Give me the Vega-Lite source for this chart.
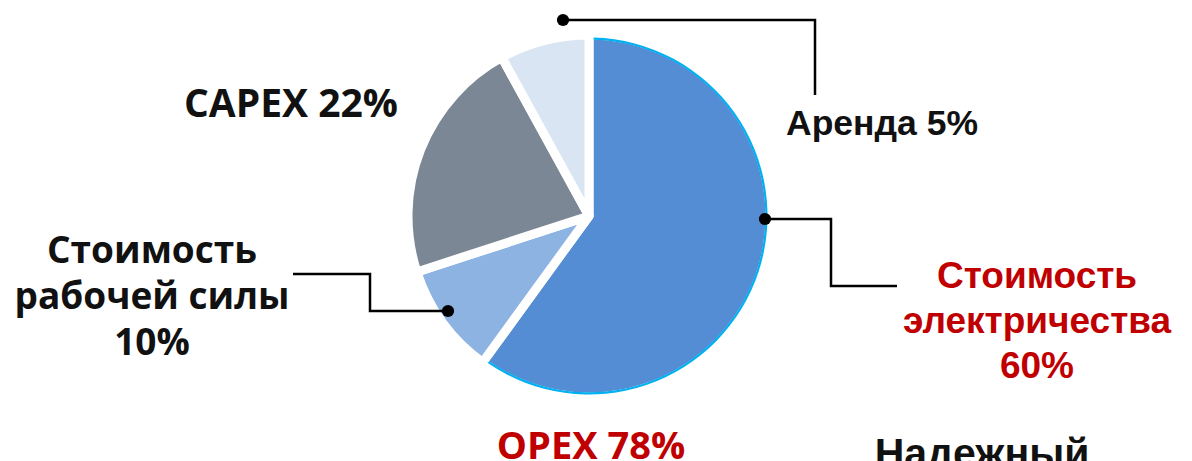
{
  "$schema": "https://vega.github.io/schema/vega-lite/v6.json",
  "width": 1178,
  "height": 432,
  "autosize": {"type": "none"},
  "padding": {"left": 0, "top": 0, "right": 14, "bottom": 29},
  "background": "#ffffff",
  "config": {"view": {"stroke": null}},
  "datasets": {
    "slices": [
      {"category": "Стоимость электричества", "value": 60, "rank": 1},
      {"category": "Стоимость рабочей силы", "value": 10, "rank": 2},
      {"category": "CAPEX", "value": 22, "rank": 3},
      {"category": "Аренда", "value": 8, "rank": 4}
    ],
    "leaders": [
      {"grp": "rent", "i": 1, "x": -13, "y": 98},
      {"grp": "rent", "i": 2, "x": 113, "y": 98},
      {"grp": "rent", "i": 3, "x": 113, "y": 60.5},
      {"grp": "elec", "i": 1, "x": 88, "y": -1.5},
      {"grp": "elec", "i": 2, "x": 121, "y": -1.5},
      {"grp": "elec", "i": 3, "x": 121, "y": -35},
      {"grp": "elec", "i": 4, "x": 154, "y": -35},
      {"grp": "labor", "i": 1, "x": -70.5, "y": -47.5},
      {"grp": "labor", "i": 2, "x": -109.5, "y": -47.5},
      {"grp": "labor", "i": 3, "x": -109.5, "y": -29},
      {"grp": "labor", "i": 4, "x": -148, "y": -29}
    ],
    "dots": [
      {"grp": "rent", "x": -13, "y": 98},
      {"grp": "elec", "x": 88, "y": -1.5},
      {"grp": "labor", "x": -70.5, "y": -47.5}
    ]
  },
  "layer": [
    {
      "data": {"name": "slices"},
      "mark": {"type": "arc", "radius": 181, "stroke": "#ffffff", "strokeWidth": 9, "strokeJoin": "round"},
      "encoding": {
        "theta": {"field": "value", "type": "quantitative", "stack": true},
        "order": {"field": "rank", "type": "quantitative"},
        "color": {
          "field": "category", "type": "nominal", "legend": null,
          "scale": {
            "domain": ["Стоимость электричества", "Стоимость рабочей силы", "CAPEX", "Аренда"],
            "range": ["#548dd4", "#8db3e2", "#7b8794", "#dae5f4"]
          }
        }
      }
    },
    {
      "data": {"values": [{"part": "rim"}]},
      "mark": {"type": "arc", "theta": 0.026, "theta2": 3.744, "radius": 178.5, "radius2": 176.3, "color": "#00b0f0"},
      "encoding": {}
    },
    {
      "data": {"name": "leaders"},
      "mark": {"type": "line", "color": "#000000", "strokeWidth": 2.5, "strokeJoin": "miter"},
      "encoding": {
        "x": {"field": "x", "type": "quantitative", "scale": {"domain": [-294.5, 294.5], "nice": false, "zero": false}, "axis": null},
        "y": {"field": "y", "type": "quantitative", "scale": {"domain": [-108, 108], "nice": false, "zero": false}, "axis": null},
        "detail": {"field": "grp", "type": "nominal"},
        "order": {"field": "i", "type": "quantitative"}
      }
    },
    {
      "data": {"name": "dots"},
      "mark": {"type": "point", "filled": true, "color": "#000000", "size": 150, "opacity": 1},
      "encoding": {
        "x": {"field": "x", "type": "quantitative"},
        "y": {"field": "y", "type": "quantitative"}
      }
    },
    {
      "data": {"values": [
        {"label": "CAPEX 22%", "x": -149, "y": 49.5}
      ]},
      "mark": {"type": "text", "font": "Open Sans", "fontWeight": "bold", "fontSize": 39, "align": "center", "baseline": "alphabetic", "color": "#111111"},
      "encoding": {
        "x": {"field": "x", "type": "quantitative"},
        "y": {"field": "y", "type": "quantitative"},
        "text": {"field": "label"}
      }
    },
    {
      "data": {"values": [
        {"label": "OPEX 78%", "x": 1, "y": -121.5}
      ]},
      "mark": {"type": "text", "font": "Open Sans", "fontWeight": "bold", "fontSize": 38, "align": "center", "baseline": "alphabetic", "color": "#c00000"},
      "encoding": {
        "x": {"field": "x", "type": "quantitative"},
        "y": {"field": "y", "type": "quantitative"},
        "text": {"field": "label"}
      }
    },
    {
      "data": {"values": [
        {"label": "Стоимость\nрабочей силы\n10%", "x": -218.5, "y": -23.5}
      ]},
      "mark": {"type": "text", "font": "Open Sans", "fontWeight": "bold", "fontSize": 37, "align": "center", "baseline": "alphabetic", "lineBreak": "\n", "lineHeight": 46, "color": "#111111"},
      "encoding": {
        "x": {"field": "x", "type": "quantitative"},
        "y": {"field": "y", "type": "quantitative"},
        "text": {"field": "label"}
      }
    },
    {
      "data": {"values": [
        {"label": "Стоимость\nэлектричества\n60%", "x": 224, "y": -36}
      ]},
      "mark": {"type": "text", "font": "Liberation Sans", "fontWeight": "bold", "fontSize": 37, "align": "center", "baseline": "alphabetic", "lineBreak": "\n", "lineHeight": 45, "color": "#c00000"},
      "encoding": {
        "x": {"field": "x", "type": "quantitative"},
        "y": {"field": "y", "type": "quantitative"},
        "text": {"field": "label"}
      }
    },
    {
      "data": {"values": [
        {"label": "Аренда 5%", "x": 146.5, "y": 40.5}
      ]},
      "mark": {"type": "text", "font": "Liberation Sans", "fontWeight": "bold", "fontSize": 35.5, "align": "center", "baseline": "alphabetic", "color": "#111111"},
      "encoding": {
        "x": {"field": "x", "type": "quantitative"},
        "y": {"field": "y", "type": "quantitative"},
        "text": {"field": "label"}
      }
    },
    {
      "data": {"values": [
        {"label": "Надежный", "x": 196.5, "y": -125.5}
      ]},
      "mark": {"type": "text", "font": "Liberation Sans", "fontWeight": "bold", "fontSize": 41, "align": "center", "baseline": "alphabetic", "color": "#111111"},
      "encoding": {
        "x": {"field": "x", "type": "quantitative"},
        "y": {"field": "y", "type": "quantitative"},
        "text": {"field": "label"}
      }
    }
  ]
}
